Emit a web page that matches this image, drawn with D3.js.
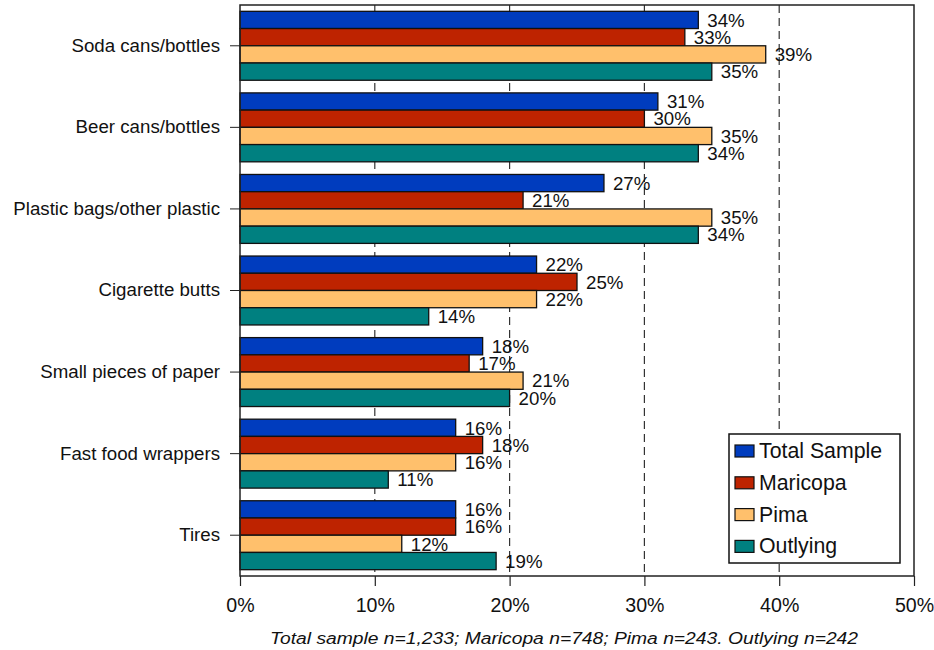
<!DOCTYPE html>
<html>
<head>
<meta charset="utf-8">
<script src="https://cdn.jsdelivr.net/npm/d3@7"></script>
<style>
  body { margin: 0; background: #fff; }
  text { font-family: "Liberation Sans", Arial, sans-serif; fill: #111; }
</style>
</head>
<body>
<div id="chart"></div>
<script>
var width = 934,
    height = 650;

// categories, top to bottom
var categories = ["Soda cans/bottles", "Beer cans/bottles", "Plastic bags/other plastic",
  "Cigarette butts", "Small pieces of paper", "Fast food wrappers", "Tires"];

var seriesNames = ["Total Sample", "Maricopa", "Pima", "Outlying"];
var seriesColors = ["#003cbe", "#be2300", "#ffc06c", "#008080"];

// percent values per series, same order as categories
var totalSample = [34, 31, 27, 22, 18, 16, 16];
var maricopa    = [33, 30, 21, 25, 17, 18, 16];
var pima        = [39, 35, 35, 22, 21, 16, 12];
var outlying    = [35, 34, 34, 14, 20, 11, 19];

var xTicks = [0, 10, 20, 30, 40, 50];
var footnote = "Total sample n=1,233; Maricopa n=748; Pima n=243. Outlying n=242";

var seriesValues = [totalSample, maricopa, pima, outlying];

var margin = {top: 5, right: 20, bottom: 74, left: 240};
var plotW = width - margin.left - margin.right,
    plotH = height - margin.top - margin.bottom;

var svg = d3.select("#chart").append("svg")
    .attr("width", width)
    .attr("height", height);

var g = svg.append("g")
    .attr("transform", "translate(" + margin.left + "," + margin.top + ")");

var x = d3.scaleLinear().domain([0, 50]).range([0, plotW]);

var y = d3.scaleBand()
    .domain(categories)
    .range([0, plotH])
    .paddingInner(0.155)
    .paddingOuter(0.0775);

var ySub = d3.scaleBand()
    .domain(seriesNames)
    .range([0, y.bandwidth()]);

// dashed gridlines
g.append("g")
  .selectAll("line")
    .data(xTicks.filter(function(d) { return d > 0 && d < 50; }))
  .enter().append("line")
    .attr("x1", function(d) { return x(d); })
    .attr("x2", function(d) { return x(d); })
    .attr("y1", 0)
    .attr("y2", plotH)
    .attr("stroke", "#333")
    .attr("stroke-width", 1.2)
    .attr("stroke-dasharray", "8,5");

// bars
var groups = g.selectAll(".cat")
    .data(categories)
  .enter().append("g")
    .attr("class", "cat")
    .attr("transform", function(d) { return "translate(0," + y(d) + ")"; });

groups.each(function(cat, ci) {
  var rows = seriesNames.map(function(s, si) {
    return {series: s, value: seriesValues[si][ci], color: seriesColors[si]};
  });
  var grp = d3.select(this);
  grp.selectAll("rect")
      .data(rows)
    .enter().append("rect")
      .attr("x", 0)
      .attr("y", function(d) { return ySub(d.series); })
      .attr("width", function(d) { return x(d.value); })
      .attr("height", ySub.bandwidth())
      .attr("fill", function(d) { return d.color; })
      .attr("stroke", "#111")
      .attr("stroke-width", 1.3);
  grp.selectAll("text")
      .data(rows)
    .enter().append("text")
      .attr("x", function(d) { return x(d.value) + 9; })
      .attr("y", function(d) { return ySub(d.series) + ySub.bandwidth() / 2; })
      .attr("dy", "0.36em")
      .style("font-size", "18.7px")
      .text(function(d) { return d.value + "%"; });
});

// plot frame
g.append("rect")
    .attr("width", plotW)
    .attr("height", plotH)
    .attr("fill", "none")
    .attr("stroke", "#222")
    .attr("stroke-width", 1.5);

// y axis
var yAxis = g.append("g")
    .call(d3.axisLeft(y).tickSize(10).tickPadding(10));
yAxis.select(".domain").remove();
yAxis.selectAll("line").attr("stroke", "#222");
yAxis.selectAll("text")
    .style("font-size", "18.7px")
    .attr("fill", "#111");

// x axis
var xAxis = g.append("g")
    .attr("transform", "translate(0," + plotH + ")")
    .call(d3.axisBottom(x).tickValues(xTicks).tickSize(10).tickPadding(12)
      .tickFormat(function(d) { return d + "%"; }));
xAxis.select(".domain").remove();
xAxis.selectAll("line").attr("stroke", "#222").attr("stroke-width", 1.2);
xAxis.selectAll("text")
    .style("font-size", "19.6px")
    .attr("fill", "#111");

// legend
var legend = g.append("g")
    .attr("transform", "translate(" + (729 - margin.left) + "," + (434 - margin.top) + ")");
legend.append("rect")
    .attr("width", 171)
    .attr("height", 129)
    .attr("fill", "#fff")
    .attr("stroke", "#111")
    .attr("stroke-width", 1.5);
var items = legend.selectAll(".item")
    .data(seriesNames)
  .enter().append("g")
    .attr("class", "item")
    .attr("transform", function(d, i) { return "translate(0," + (24 + i * 31.8) + ")"; });
items.append("rect")
    .attr("x", 6)
    .attr("y", -13)
    .attr("width", 19)
    .attr("height", 12)
    .attr("fill", function(d, i) { return seriesColors[i]; })
    .attr("stroke", "#111")
    .attr("stroke-width", 1.2);
items.append("text")
    .attr("x", 30)
    .attr("y", 0)
    .style("font-size", "21.3px")
    .text(function(d) { return d; });

// footnote
svg.append("text")
    .attr("x", 270)
    .attr("y", 644)
    .attr("textLength", 588)
    .attr("lengthAdjust", "spacingAndGlyphs")
    .style("font-family", "'Liberation Sans Narrow', 'Arial Narrow', 'Liberation Sans', Arial, sans-serif")
    .style("font-style", "italic")
    .style("font-size", "16px")
    .text(footnote);
</script>
</body>
</html>
